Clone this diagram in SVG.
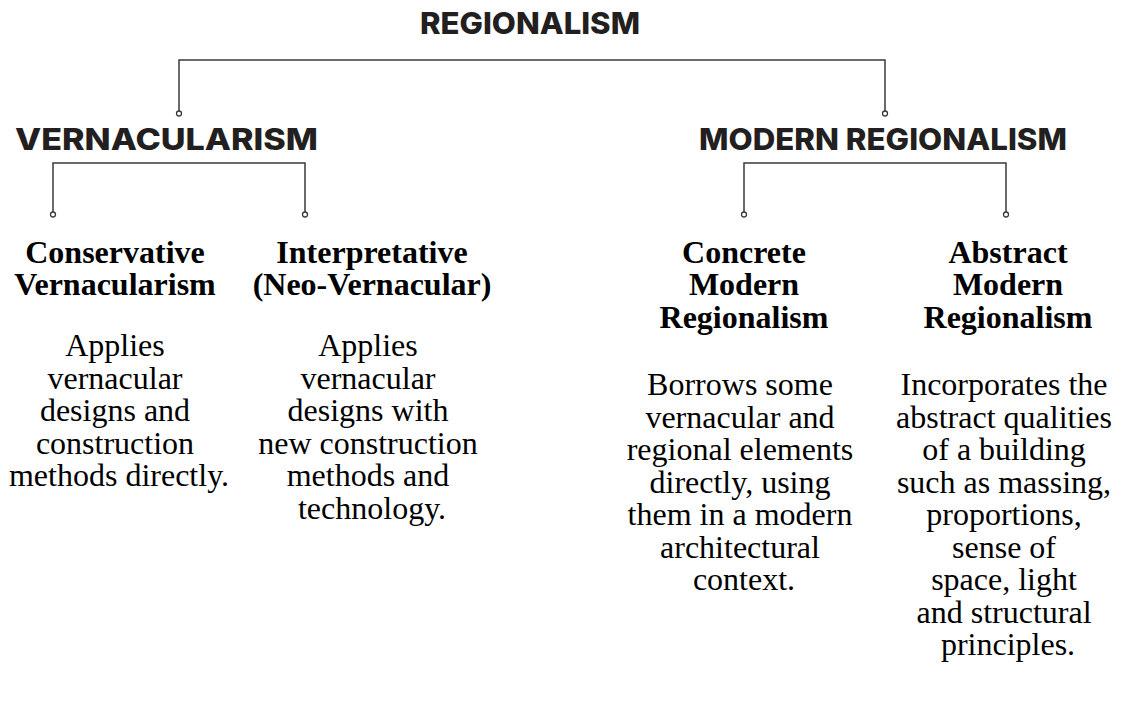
<svg xmlns="http://www.w3.org/2000/svg" width="1122" height="710" viewBox="0 0 1122 710">
  <style>
    .head { font-family: Inter, "Liberation Sans", sans-serif; font-weight: 800; font-size: 30px; fill: #231f20; text-anchor: middle; }
    .label { font-family: "Liberation Serif", serif; font-weight: bold; font-size: 32px; fill: #000; text-anchor: middle; }
    .desc { font-family: "Liberation Serif", serif; font-size: 32px; fill: #000; text-anchor: middle; }
    .wire { fill: none; stroke: #3a3a3a; stroke-width: 1.5; }
    .dot { fill: #fff; stroke: #3a3a3a; stroke-width: 1.3; }
  </style>
  <rect width="1122" height="710" fill="#fff"/>

  <!-- connectors -->
  <g id="connectors">
    <path class="wire" d="M179 111 V60 H885 V111"/>
    <circle class="dot" cx="179" cy="113.5" r="2.5"/>
    <circle class="dot" cx="885" cy="113.5" r="2.5"/>
    <path class="wire" d="M53 212 V163 H305 V212"/>
    <circle class="dot" cx="53" cy="214.5" r="2.5"/>
    <circle class="dot" cx="305" cy="214.5" r="2.5"/>
    <path class="wire" d="M744 212 V163 H1006 V212"/>
    <circle class="dot" cx="744" cy="214.5" r="2.5"/>
    <circle class="dot" cx="1006" cy="214.5" r="2.5"/>
  </g>

  <!-- headings -->
  <g id="regionalism">
    <text class="head" x="530" y="34" textLength="220" lengthAdjust="spacingAndGlyphs">REGIONALISM</text>
  </g>
  <g id="vernacularism">
    <text class="head" x="166.5" y="150" textLength="303" lengthAdjust="spacingAndGlyphs">VERNACULARISM</text>
  </g>
  <g id="modern-regionalism">
    <text class="head" x="883" y="150" textLength="368" lengthAdjust="spacingAndGlyphs">MODERN REGIONALISM</text>
  </g>

  <!-- leaf nodes -->
  <g id="conservative">
    <text class="label"><tspan x="115" y="262.5">Conservative</tspan><tspan x="115" y="295">Vernacularism</tspan></text>
    <text class="desc">
      <tspan x="119" y="356">Applies</tspan>
      <tspan x="119" y="388.5">vernacular</tspan>
      <tspan x="119" y="421">designs and</tspan>
      <tspan x="119" y="453.5">construction</tspan>
      <tspan x="119" y="486">methods directly.</tspan>
    </text>
  </g>
  <g id="interpretative">
    <text class="label"><tspan x="372" y="262.5">Interpretative</tspan><tspan x="372" y="295">(Neo-Vernacular)</tspan></text>
    <text class="desc">
      <tspan x="372" y="356">Applies</tspan>
      <tspan x="372" y="388.5">vernacular</tspan>
      <tspan x="372" y="421">designs with</tspan>
      <tspan x="372" y="453.5">new construction</tspan>
      <tspan x="372" y="486">methods and</tspan>
      <tspan x="372" y="518.5">technology.</tspan>
    </text>
  </g>
  <g id="concrete">
    <text class="label"><tspan x="744" y="262.5">Concrete</tspan><tspan x="744" y="295">Modern</tspan><tspan x="744" y="327.5">Regionalism</tspan></text>
    <text class="desc">
      <tspan x="744" y="395">Borrows some</tspan>
      <tspan x="744" y="427.5">vernacular and</tspan>
      <tspan x="744" y="460">regional elements</tspan>
      <tspan x="744" y="492.5">directly, using</tspan>
      <tspan x="744" y="525">them in a modern</tspan>
      <tspan x="744" y="557.5">architectural</tspan>
      <tspan x="744" y="590">context.</tspan>
    </text>
  </g>
  <g id="abstract">
    <text class="label"><tspan x="1008" y="262.5">Abstract</tspan><tspan x="1008" y="295">Modern</tspan><tspan x="1008" y="327.5">Regionalism</tspan></text>
    <text class="desc">
      <tspan x="1008" y="395">Incorporates the</tspan>
      <tspan x="1008" y="427.5">abstract qualities</tspan>
      <tspan x="1008" y="460">of a building</tspan>
      <tspan x="1008" y="492.5">such as massing,</tspan>
      <tspan x="1008" y="525">proportions,</tspan>
      <tspan x="1008" y="557.5">sense of</tspan>
      <tspan x="1008" y="590">space, light</tspan>
      <tspan x="1008" y="622.5">and structural</tspan>
      <tspan x="1008" y="655">principles.</tspan>
    </text>
  </g>
</svg>
